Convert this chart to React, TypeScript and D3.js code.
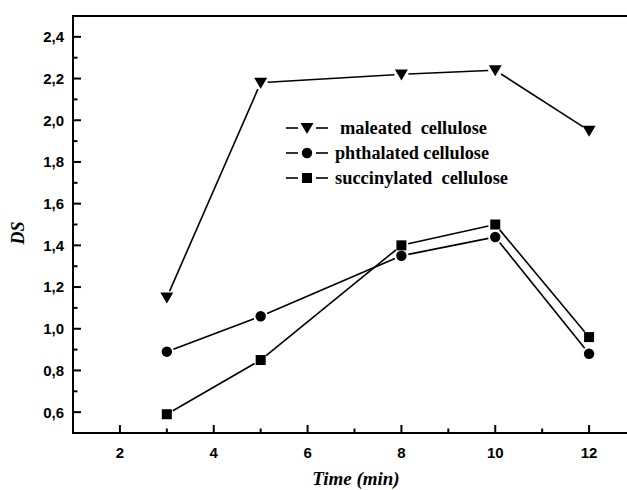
import React from "react";
import * as d3 from "d3";

const times = [3, 5, 8, 10, 12];
const maleated = [1.15, 2.18, 2.22, 2.24, 1.95];
const phthalated = [0.89, 1.06, 1.35, 1.44, 0.88];
const succinylated = [0.59, 0.85, 1.4, 1.5, 0.96];
const seriesNames = ["maleated  cellulose", "phthalated cellulose", "succinylated  cellulose"];
const seriesShapes = ["triangle", "circle", "square"];
const xMajor = [2, 4, 6, 8, 10, 12];
const xMinor = [3, 5, 7, 9, 11];
const yMajor = [0.6, 0.8, 1.0, 1.2, 1.4, 1.6, 1.8, 2.0, 2.2, 2.4];
const yMinor = [0.7, 0.9, 1.1, 1.3, 1.5, 1.7, 1.9, 2.1, 2.3];

const W = 627;
const H = 490;
const L = 73, T = 16, B = 433, R = 636;
const legendTextStart = [340, 335, 335];
const legendTextWidth = [147, 154, 173];

const x = d3.scaleLinear().domain([1, 13]).range([L, R]);
const y = d3.scaleLinear().domain([0.5, 2.5]).range([B, T]);

function Marker({ shape, cx, cy }: { shape: string; cx: number; cy: number }) {
  if (shape === "triangle") {
    const p = d3.path();
    p.moveTo(cx - 6.5, cy - 5);
    p.lineTo(cx + 6.5, cy - 5);
    p.lineTo(cx, cy + 6);
    p.closePath();
    return <path d={p.toString()} fill="#000" />;
  }
  if (shape === "circle") return <circle cx={cx} cy={cy} r={5.2} fill="#000" />;
  return <rect x={cx - 5} y={cy - 5} width={10} height={10} fill="#000" />;
}

export default function App() {
  const all = [maleated, phthalated, succinylated];
  const gap = 7;
  const fmt = (v: number) => v.toFixed(1).replace(".", ",");
  return (
    <svg width={W} height={H} style={{ position: "absolute", left: 0, top: 0, background: "#fff" }}>
      <rect x={0} y={0} width={W} height={H} fill="#fff" />
      <line x1={L} y1={T} x2={R} y2={T} stroke="#000" strokeWidth={2} />
      <line x1={L} y1={B} x2={R} y2={B} stroke="#000" strokeWidth={2} />
      <line x1={L} y1={T - 1} x2={L} y2={B + 1} stroke="#000" strokeWidth={2} />
      <line x1={R} y1={T} x2={R} y2={B} stroke="#000" strokeWidth={2} />
      {yMajor.map((v) => (
        <g key={"ym" + v}>
          <line x1={L} x2={L + 8} y1={y(v)} y2={y(v)} stroke="#000" strokeWidth={2} />
          <text x={64} y={y(v)} dy="0.36em" textAnchor="end" fontFamily="Liberation Sans, Arial, sans-serif" fontWeight="bold" fontSize={15}>
            {fmt(v)}
          </text>
        </g>
      ))}
      {yMinor.map((v) => (
        <line key={"yn" + v} x1={L} x2={L + 4.5} y1={y(v)} y2={y(v)} stroke="#000" strokeWidth={2} />
      ))}
      {xMajor.map((v) => (
        <g key={"xm" + v}>
          <line x1={x(v)} x2={x(v)} y1={B} y2={B - 8} stroke="#000" strokeWidth={2} />
          <text x={x(v)} y={458} textAnchor="middle" fontFamily="Liberation Sans, Arial, sans-serif" fontWeight="bold" fontSize={15}>
            {v}
          </text>
        </g>
      ))}
      {xMinor.map((v) => (
        <line key={"xn" + v} x1={x(v)} x2={x(v)} y1={B} y2={B - 4.5} stroke="#000" strokeWidth={2} />
      ))}
      <text x={356} y={485} textAnchor="middle" fontFamily="Liberation Serif, Times New Roman, serif" fontWeight="bold" fontStyle="italic" fontSize={19}>
        Time (min)
      </text>
      <text transform={`translate(24,233) rotate(-90)`} textAnchor="middle" fontFamily="Liberation Serif, Times New Roman, serif" fontWeight="bold" fontStyle="italic" fontSize={18}>
        DS
      </text>
      {all.map((vals, si) => (
        <g key={"s" + si}>
          {vals.slice(1).map((v, i) => {
            const x0 = x(times[i]), y0 = y(vals[i]);
            const x1 = x(times[i + 1]), y1 = y(v);
            const dx = x1 - x0, dy = y1 - y0;
            const len = Math.hypot(dx, dy);
            const ux = dx / len, uy = dy / len;
            return (
              <line key={i} x1={x0 + ux * gap} y1={y0 + uy * gap} x2={x1 - ux * gap} y2={y1 - uy * gap} stroke="#000" strokeWidth={1.6} />
            );
          })}
          {vals.map((v, i) => (
            <Marker key={"m" + i} shape={seriesShapes[si]} cx={x(times[i])} cy={y(v)} />
          ))}
        </g>
      ))}
      {seriesNames.map((name, i) => {
        const ly = 128 + i * 25;
        return (
          <g key={"l" + i}>
            <line x1={286} x2={298} y1={ly} y2={ly} stroke="#000" strokeWidth={1.6} />
            <line x1={316} x2={328} y1={ly} y2={ly} stroke="#000" strokeWidth={1.6} />
            <Marker shape={seriesShapes[i]} cx={307} cy={ly} />
            <text x={legendTextStart[i]} y={ly} dy="0.32em" textLength={legendTextWidth[i]} lengthAdjust="spacingAndGlyphs" fontFamily="Liberation Serif, Times New Roman, serif" fontWeight="bold" fontSize={18} style={{ whiteSpace: "pre" }}>
              {name}
            </text>
          </g>
        );
      })}
    </svg>
  );
}
